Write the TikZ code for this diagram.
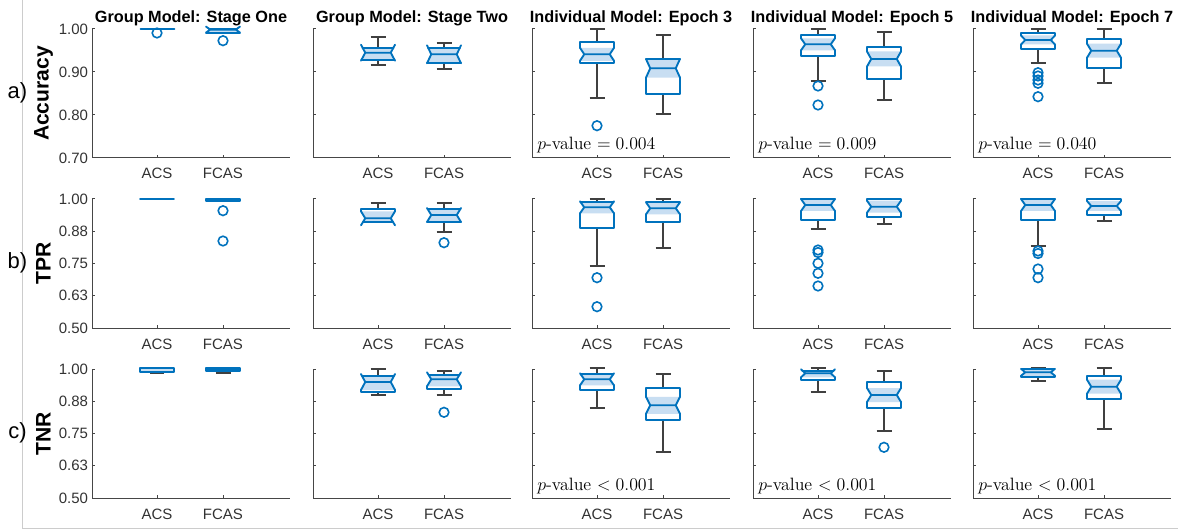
\RequirePackage{fix-cm}
\documentclass[tikz,border=0pt]{standalone}
\usepackage{fontspec}
\newfontfamily\arialf{Liberation Sans}

\definecolor{boxblue}{RGB}{0,114,189}
\definecolor{notchblue}{RGB}{200,222,242}
\definecolor{whiskgray}{RGB}{64,64,64}
\definecolor{axisgray}{RGB}{70,70,70}
\definecolor{ticktext}{RGB}{50,50,50}
\definecolor{framegray}{RGB}{204,204,204}

\tikzset{
  boxline/.style={draw=boxblue, line width=1.4pt, line cap=round, line join=round},
  whisk/.style={draw=whiskgray, line width=1.4pt},
  notchfill/.style={fill=notchblue},
  outlier/.style={draw=boxblue, line width=1.2pt},
  axisline/.style={draw=axisgray, line width=0.75pt},
  ticklab/.style={font=\arialf\fontsize{11.25}{13}\selectfont, text=ticktext, inner sep=0pt},
  paneltitle/.style={font=\arialf\bfseries\fontsize{12.2}{14}\selectfont, inner sep=0pt, anchor=base},
  metric/.style={font=\arialf\bfseries\fontsize{15.8}{18}\selectfont, rotate=90, inner sep=0pt},
  rowtag/.style={font=\arialf\fontsize{16.5}{19}\selectfont, inner sep=0pt, anchor=base},
  pval/.style={font=\fontsize{13.4}{15}\selectfont, inner sep=0pt, anchor=base west},
}

% notched box: x, upper whisker, q3, median, q1, lower whisker, notch half-length (screen units, y down)
\newcommand\nbox[7]{%
  \pgfmathsetmacro\bxNU{#4-#7}%
  \pgfmathsetmacro\bxNL{#4+#7}%
  \pgfmathsetmacro\bxWT{12.75+4.25*min(1,(#4-#3)/#7)}%
  \pgfmathsetmacro\bxWB{12.75+4.25*min(1,(#5-#4)/#7)}%
  \pgfmathtruncatemacro\bxFT{((#4-#3)<#7) ? 1 : 0}%
  \pgfmathtruncatemacro\bxFB{((#5-#4)<#7) ? 1 : 0}%
  \draw[whisk] (#1,#3) -- (#1,#2) (#1-7.5,#2) -- (#1+7.5,#2)
               (#1,#5) -- (#1,#6) (#1-7.5,#6) -- (#1+7.5,#6);
  \begin{scope}
    \clip (#1-17,#3) rectangle (#1+17,#5);
    \fill[white] (#1-17,#3) rectangle (#1+17,#5);
    \fill[notchfill] (#1-17,\bxNU) -- (#1-12.75,#4) -- (#1-17,\bxNL) --
      (#1+17,\bxNL) -- (#1+12.75,#4) -- (#1+17,\bxNU) -- cycle;
  \end{scope}
  \draw[boxline] (#1-17,\bxNU) -- (#1-12.75,#4) -- (#1-17,\bxNL)
                 (#1+17,\bxNU) -- (#1+12.75,#4) -- (#1+17,\bxNL)
                 (#1-12.75,#4) -- (#1+12.75,#4);
  \ifnum\bxFT=0
    \draw[boxline] (#1-17,\bxNU) -- (#1-17,#3) -- (#1+17,#3) -- (#1+17,\bxNU);
  \else
    \draw[boxline] (#1-\bxWT,#3) -- (#1+\bxWT,#3);
  \fi
  \ifnum\bxFB=0
    \draw[boxline] (#1-17,\bxNL) -- (#1-17,#5) -- (#1+17,#5) -- (#1+17,\bxNL);
  \else
    \draw[boxline] (#1-\bxWB,#5) -- (#1+\bxWB,#5);
  \fi
}
\newcommand\outl[2]{\draw[outlier] (#1,#2) circle[radius=3.6pt];}

\begin{document}
\begin{tikzpicture}[x=0.75pt,y=-0.75pt]
\useasboundingbox (0,0) rectangle (1178,531);

% frame edges
\draw[framegray, line width=0.75pt] (22,0) -- (22,528.5) -- (1178,528.5);

% axes, ticks and category labels
\foreach \c/\L in {1/92,2/313,3/532,4/753,5/973}{
  \foreach \r/\T in {1/29,2/199,3/369}{
    \draw[axisline] (\L,\T) -- (\L,\T+129) -- (\L+198,\T+129);
    \draw[axisline] (\L+65,\T+129) -- (\L+65,\T+126)
                    (\L+131,\T+129) -- (\L+131,\T+126);
    \node[ticklab, anchor=base] (xa-\r-\c) at (\L+65,\T+150) {ACS};
    \node[ticklab, anchor=base] (xf-\r-\c) at (\L+131,\T+150) {FCAS};
  }
  \foreach \o in {0,43,86}{
    \draw[axisline] (\L,29+\o) -- (\L+3,29+\o);
  }
  \foreach \T in {199,369}{
    \foreach \o in {0,32.25,64.5,96.75}{
      \draw[axisline] (\L,\T+\o) -- (\L+3,\T+\o);
    }
  }
}

% value labels
\foreach \o/\t [count=\k] in {0/1.00,43/0.90,86/0.80,129/0.70}{
  \node[ticklab, anchor=east] (ya-\k) at (88.3,29+\o) {\t};
}
\foreach \o/\t [count=\k] in {0/1.00,32.25/0.88,64.5/0.75,96.75/0.63,129/0.50}{
  \node[ticklab, anchor=east] (yb-\k) at (88.3,199+\o) {\t};
  \node[ticklab, anchor=east] (yc-\k) at (88.3,369+\o) {\t};
}

% column titles
\node[paneltitle] (ttl-1) at (191,22.5) {Group Model: Stage One};
\node[paneltitle] (ttl-2) at (412,22.5) {Group Model: Stage Two};
\node[paneltitle] (ttl-3) at (631,22.5) {Individual Model: Epoch 3};
\node[paneltitle] (ttl-4) at (852,22.5) {Individual Model: Epoch 5};
\node[paneltitle] (ttl-5) at (1072,22.5) {Individual Model: Epoch 7};

% row tags and metric names
\node[rowtag] (tag-a) at (17.5,98.5) {a)};
\node[rowtag] (tag-b) at (17.5,268.5) {b)};
\node[rowtag] (tag-c) at (17.5,438.5) {c)};
\node[metric] (m-a) at (43.5,93.5) {Accuracy};
\node[metric] (m-b) at (43.5,263.5) {TPR};
\node[metric] (m-c) at (43.5,433.5) {TNR};

% ---- row a: accuracy ----
\draw[boxline] (140.5,29.3) -- (174.5,29.3);
\outl{157}{33}
\nbox{223}{29}{29}{29.6}{32.6}{32.6}{3}
\outl{223}{40.7}

\nbox{378}{36.7}{47.7}{52.7}{60}{65.3}{8}
\nbox{444}{43.3}{47.7}{54.3}{63.3}{69}{9}

\nbox{597}{29.3}{42.3}{54.3}{63.3}{98.3}{6.5}
\outl{597}{125.7}
\nbox{663}{35}{59}{68.3}{94.3}{114.3}{9.3}

\nbox{818}{29.3}{35}{44.3}{56}{81}{6}
\outl{818}{86}
\outl{818}{105}
\nbox{884}{32.3}{46.7}{59}{79}{100}{7.5}

\nbox{1038}{29.3}{33.3}{40}{49}{62.7}{4.5}
\outl{1038}{72.7}
\outl{1038}{76}
\outl{1038}{80}
\outl{1038}{83.3}
\outl{1038}{96.7}
\nbox{1104}{29.3}{39}{50.7}{68.3}{83.3}{7}

% ---- row b: TPR ----
\draw[boxline] (140,199) -- (174,199);
\draw[boxline, fill=notchblue] (206,198.8) rectangle (240,200.6);
\outl{223}{210.7}
\outl{223}{241}

\nbox{378}{202.7}{209}{218.3}{221.7}{222.5}{7}
\nbox{444}{202.7}{209}{215}{222.3}{232.3}{7}
\outl{444}{242.7}

\nbox{597}{198.7}{201.7}{207.3}{228.3}{265.7}{6}
\outl{597}{277.7}
\outl{597}{306.7}
\nbox{663}{198.7}{202.3}{208.3}{222.3}{248.3}{6}

\nbox{818}{198.7}{198.7}{205}{220}{229}{6}
\outl{818}{250}
\outl{818}{252.5}
\outl{818}{263.3}
\outl{818}{273.3}
\outl{818}{286}
\nbox{884}{198.7}{198.7}{206.7}{216.7}{224}{6}

\nbox{1038}{198.7}{198.7}{205}{220}{246}{6}
\outl{1038}{251}
\outl{1038}{253.5}
\outl{1038}{269}
\outl{1038}{277.7}
\nbox{1104}{198.7}{198.7}{206}{214.7}{221}{5}

% ---- row c: TNR ----
\draw[whisk] (150,373.5) -- (164,373.5);
\draw[boxline, fill=notchblue] (140,367.8) rectangle (174,371.6);
\draw[whisk] (215.5,373.3) -- (230.5,373.3);
\draw[boxline, fill=boxblue] (206,368.3) rectangle (240,371.3);

\nbox{378}{369.3}{376}{382}{391.7}{395}{8}
\nbox{444}{370.7}{375.3}{379.3}{389.3}{395}{7}
\outl{444}{412.3}

\nbox{597}{368}{374.3}{379.3}{390}{408.3}{6}
\nbox{663}{373.7}{388.3}{405.3}{420}{451.7}{8.5}

\nbox{818}{368}{370.7}{373.3}{380}{391.7}{4}
\nbox{884}{371}{382}{395}{408.3}{431}{7}
\outl{884}{447.3}

\nbox{1038}{368}{369.3}{372.3}{376.7}{380.7}{3.5}
\nbox{1104}{368}{376}{386.7}{399}{429}{7}

% significance annotations
\node[pval] (p-a3) at (537,150) {$p$-value $= 0.004$};
\node[pval] (p-a4) at (758,150) {$p$-value $= 0.009$};
\node[pval] (p-a5) at (978,150) {$p$-value $= 0.040$};
\node[pval] (p-c3) at (537,490) {$p$-value $< 0.001$};
\node[pval] (p-c4) at (758,490) {$p$-value $< 0.001$};
\node[pval] (p-c5) at (978,490) {$p$-value $< 0.001$};
\end{tikzpicture}
\end{document}
